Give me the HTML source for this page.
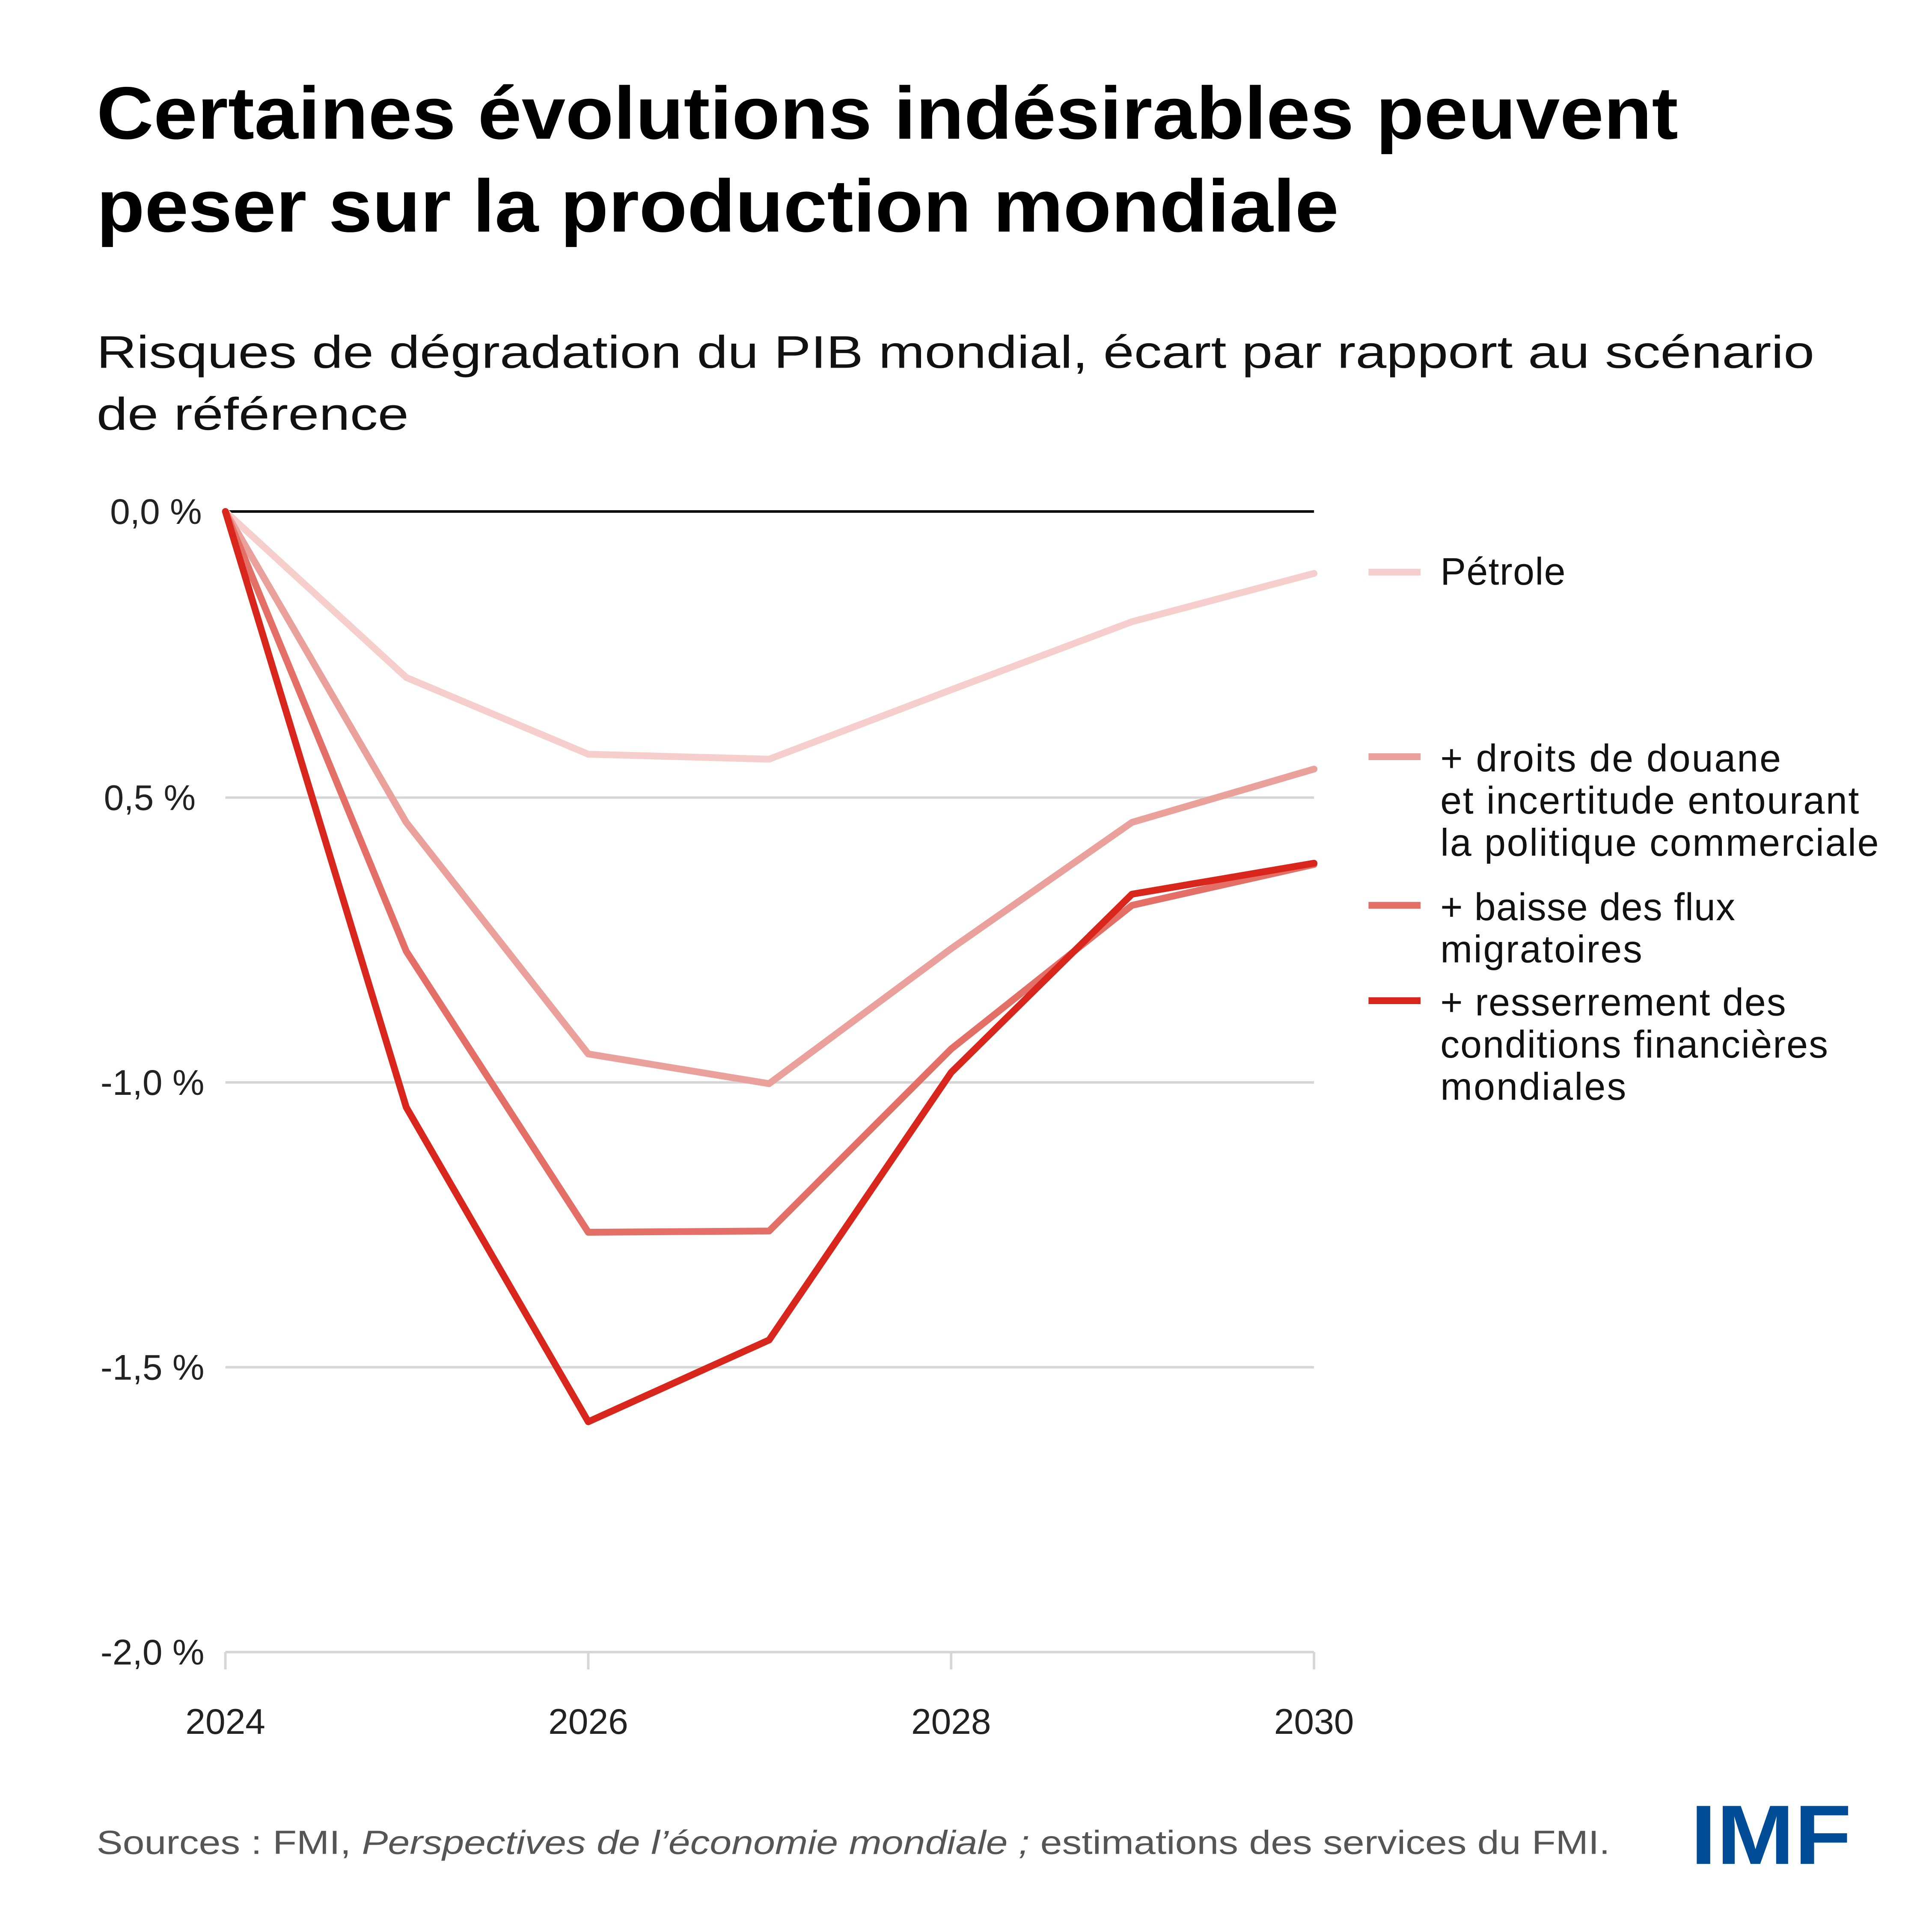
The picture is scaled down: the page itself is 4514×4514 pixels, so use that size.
<!DOCTYPE html>
<html><head><meta charset="utf-8"><style>
html,body{margin:0;padding:0;background:#fff;}
svg{display:block;}
text{font-family:"Liberation Sans",sans-serif;}
</style></head><body>
<svg width="4514" height="4514" viewBox="0 0 1560 1560" xmlns="http://www.w3.org/2000/svg">
<rect width="1560" height="1560" fill="#fff"/>
<text x="78" y="112" font-size="60" font-weight="bold" fill="#000" textLength="1277" lengthAdjust="spacingAndGlyphs">Certaines évolutions indésirables peuvent</text>
<text x="78" y="187" font-size="60" font-weight="bold" fill="#000" textLength="1003" lengthAdjust="spacingAndGlyphs">peser sur la production mondiale</text>
<text x="78" y="297" font-size="37" fill="#111" textLength="1387" lengthAdjust="spacingAndGlyphs">Risques de dégradation du PIB mondial, écart par rapport au scénario</text>
<text x="78" y="347" font-size="37" fill="#111" textLength="252" lengthAdjust="spacingAndGlyphs">de référence</text>
<g stroke="#d6d6d6" stroke-width="2">
<line x1="182" y1="644" x2="1061" y2="644"/>
<line x1="182" y1="874" x2="1061" y2="874"/>
<line x1="182" y1="1104" x2="1061" y2="1104"/>
<line x1="182" y1="1334" x2="1061" y2="1334"/>
<line x1="182" y1="1334" x2="182" y2="1348"/>
<line x1="475" y1="1334" x2="475" y2="1348"/>
<line x1="768" y1="1334" x2="768" y2="1348"/>
<line x1="1061" y1="1334" x2="1061" y2="1348"/>
</g>
<line x1="182" y1="413" x2="1061" y2="413" stroke="#000" stroke-width="2"/>
<g font-size="29" fill="#222" text-anchor="end">
<text x="163" y="423">0,0 %</text>
<text x="158" y="654">0,5 %</text>
<text x="165" y="884">-1,0 %</text>
<text x="165" y="1114">-1,5 %</text>
<text x="165" y="1344">-2,0 %</text>
</g>
<g font-size="29" fill="#222" text-anchor="middle">
<text x="182" y="1400">2024</text>
<text x="475" y="1400">2026</text>
<text x="768" y="1400">2028</text>
<text x="1061" y="1400">2030</text>
</g>
<g fill="none" stroke-width="5.5" stroke-linejoin="round" stroke-linecap="round">
<polyline stroke="#f6cfcc" points="182,413 328,547 475,609 621,613 768,557 914,502 1061,463"/>
<polyline stroke="#eaa19c" points="182,413 328,664 475,851 621,875 768,766 914,664 1061,621"/>
<polyline stroke="#e36f66" points="182,413 328,768 475,995 621,994 768,847 914,731 1061,698"/>
<polyline stroke="#d9261c" points="182,413 328,894 475,1148 621,1082 768,866 914,722 1061,697"/>
</g>
<g stroke-width="5.5">
<line x1="1105" y1="462" x2="1147" y2="462" stroke="#f6cfcc"/>
<line x1="1105" y1="611" x2="1147" y2="611" stroke="#eaa19c"/>
<line x1="1105" y1="731" x2="1147" y2="731" stroke="#e36f66"/>
<line x1="1105" y1="808" x2="1147" y2="808" stroke="#d9261c"/>
</g>
<g font-size="31" fill="#111" lengthAdjust="spacingAndGlyphs">
<text x="1163" y="472" textLength="101">Pétrole</text>
<text x="1163" y="623" textLength="275">+ droits de douane</text>
<text x="1163" y="657" textLength="338">et incertitude entourant</text>
<text x="1163" y="691" textLength="354">la politique commerciale</text>
<text x="1163" y="743" textLength="238">+ baisse des flux</text>
<text x="1163" y="777" textLength="163">migratoires</text>
<text x="1163" y="820" textLength="279">+ resserrement des</text>
<text x="1163" y="854" textLength="313">conditions financières</text>
<text x="1163" y="888" textLength="150">mondiales</text>
</g>
<text x="78" y="1497" font-size="27" fill="#555" textLength="1222" lengthAdjust="spacingAndGlyphs">Sources : FMI, <tspan font-style="italic">Perspectives de l’économie mondiale ;</tspan> estimations des services du FMI.</text>
<text x="1365" y="1505" font-size="68" font-weight="bold" fill="#004c97" textLength="130" lengthAdjust="spacingAndGlyphs">IMF</text>
</svg>
</body></html>
